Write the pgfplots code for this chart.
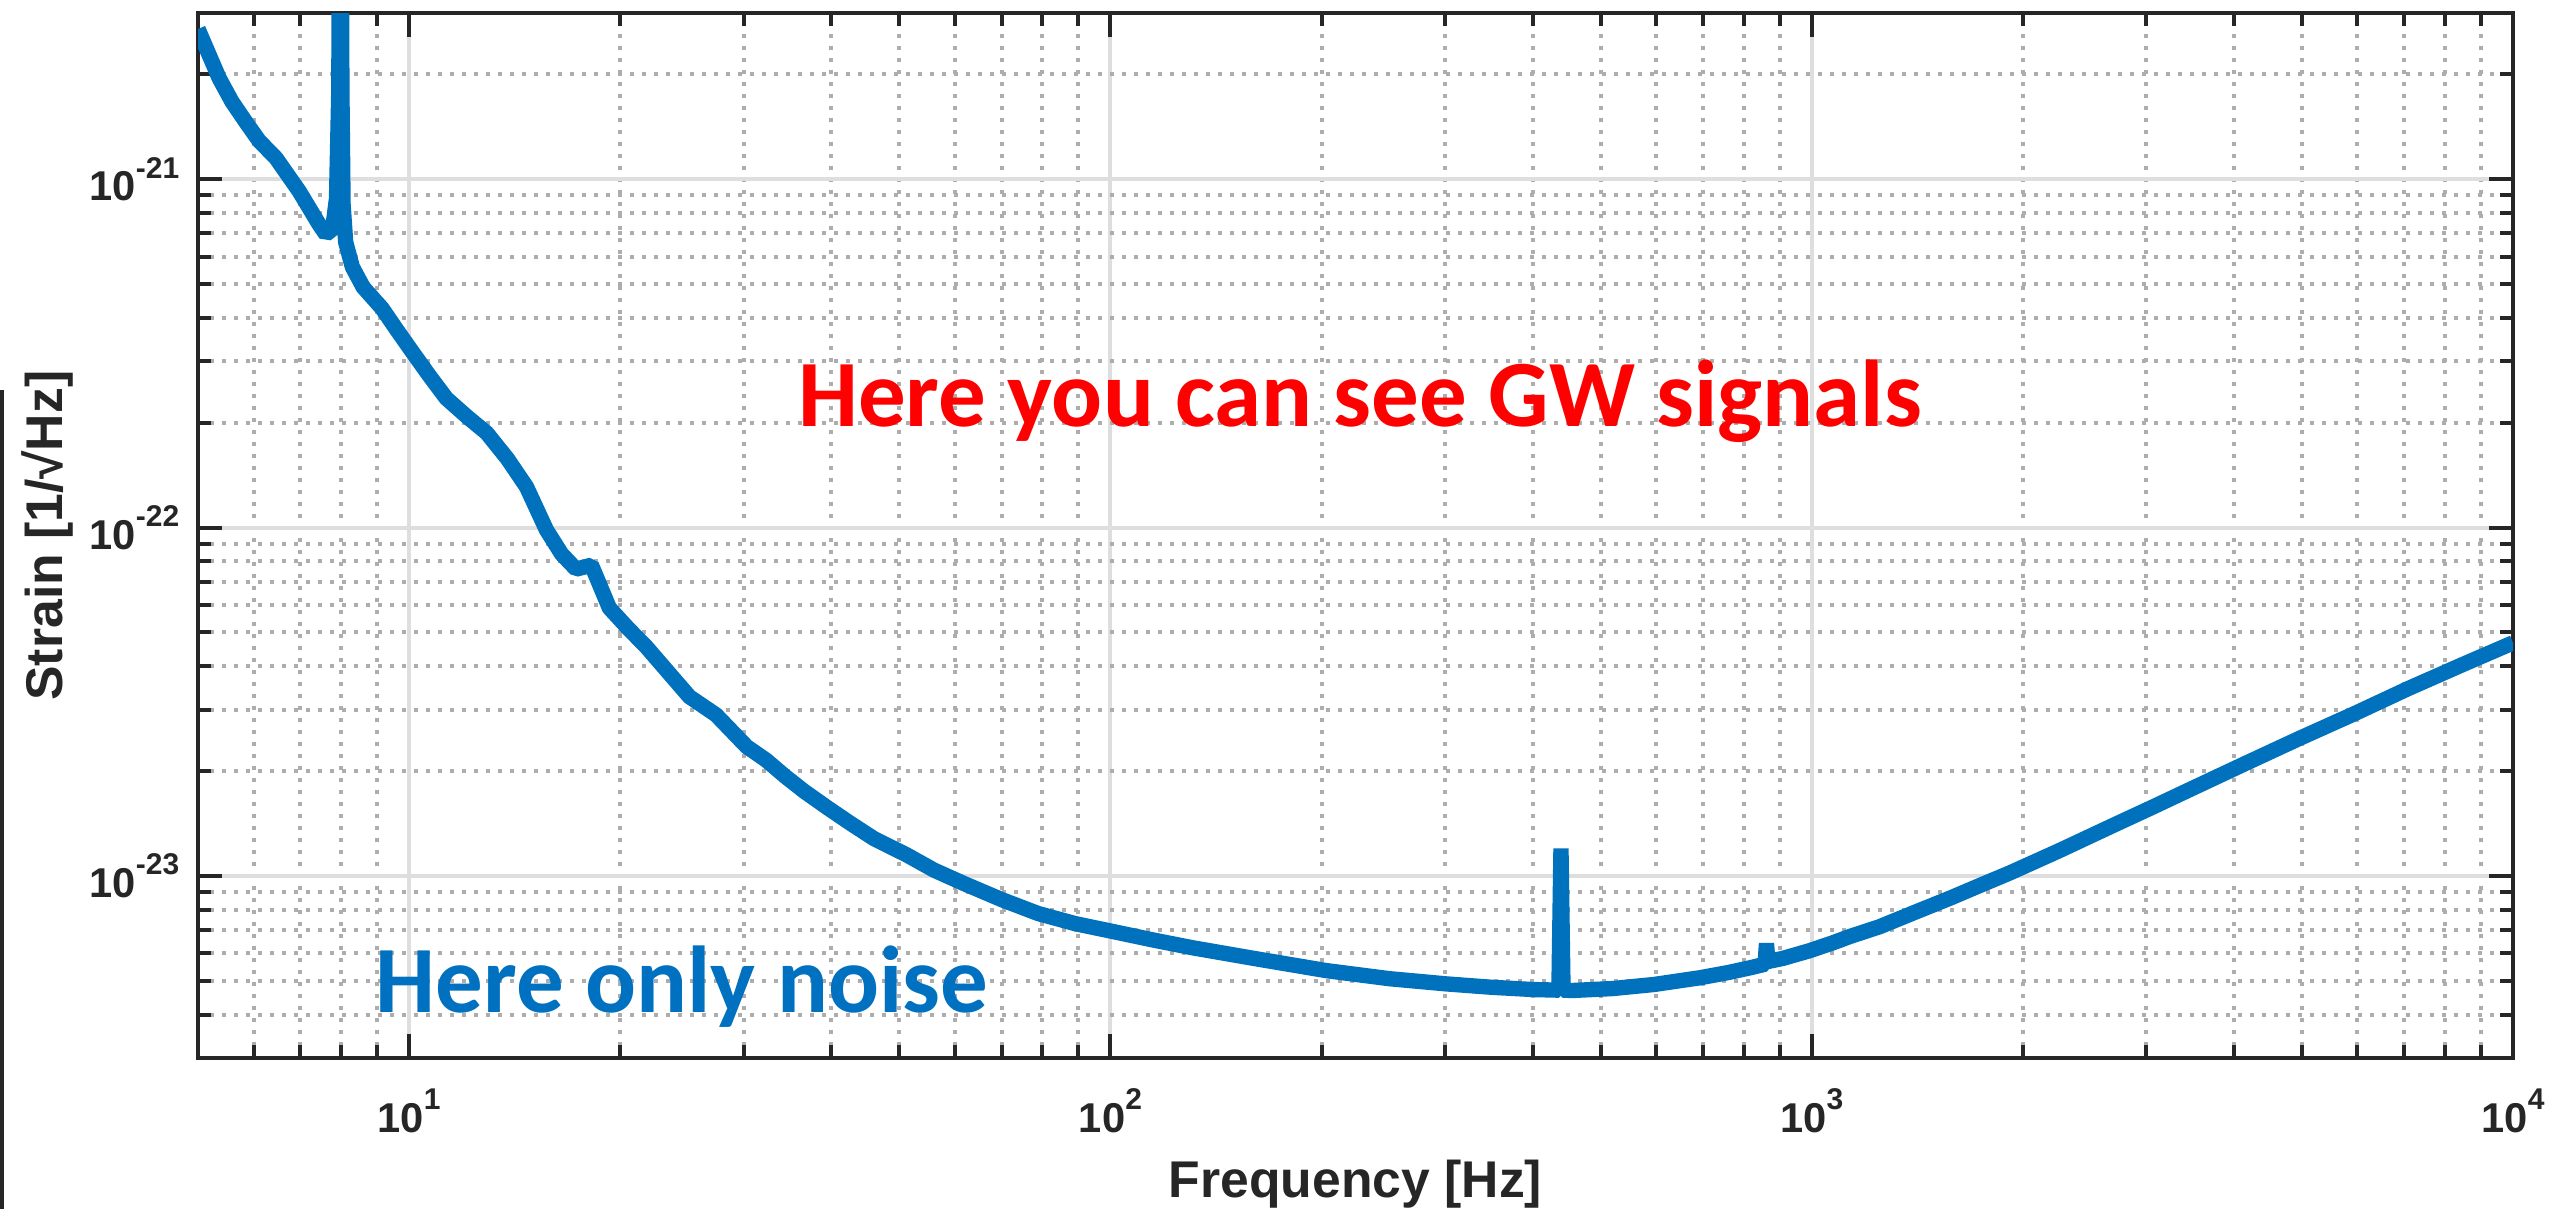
\documentclass[border=0pt]{standalone}
\usepackage{pgfplots}
\pgfplotsset{compat=1.18}
\usepackage{fontspec}
\setmainfont{Liberation Sans}
\newfontfamily\calibri{Carlito}
\definecolor{mblue}{RGB}{0,114,189}
\definecolor{tblue}{RGB}{0,112,192}
\definecolor{axgray}{RGB}{38,38,38}
% power-of-ten tick label with a raised exponent
\newcommand{\pw}[1]{10\raisebox{6.8pt}{\fontsize{9}{9}\selectfont #1}}

\begin{document}
\begin{tikzpicture}
\begin{axis}[
  at={(0,0)}, anchor=south west,
  scale only axis, width=694.5pt, height=313.5pt,
  xmode=log, ymode=log,
  xmin=5, xmax=10000, ymin=3e-24, ymax=3e-21,
  xtick={10,100,1000,10000},
  xticklabels={\pw{1},\pw{2},\pw{3},\pw{4}},
  ytick={1e-23,1e-22,1e-21},
  yticklabels={\pw{-23},\pw{-22},\pw{-21}},
  minor xtick={6,7,8,9,20,30,40,50,60,70,80,90,200,300,400,500,600,700,800,900,2000,3000,4000,5000,6000,7000,8000,9000},
  minor ytick={4e-24,5e-24,6e-24,7e-24,8e-24,9e-24,2e-23,3e-23,4e-23,5e-23,6e-23,7e-23,8e-23,9e-23,2e-22,3e-22,4e-22,5e-22,6e-22,7e-22,8e-22,9e-22,2e-21},
  grid=both,
  major grid style={line width=1.2pt, color=black!13},
  minor grid style={line width=1.2pt, color=black!32, dash pattern=on 1.2pt off 2.4pt},
  major tick length=7.2pt, minor tick length=4pt,
  tick style={line width=1.2pt, color=axgray},
  axis line style={line width=1.4pt, color=axgray},
  tick label style={font=\fontsize{12.5}{12.5}\selectfont\bfseries, text=axgray},
  xticklabel style={anchor=base, inner sep=0pt, yshift=-22.2pt},
  yticklabel style={anchor=east, inner sep=0pt, xshift=-5.4pt},
  xlabel={Frequency [Hz]},
  ylabel={Strain [1/√Hz]},
  every axis x label/.style={at={(axis description cs:0.5,-0.1330)}, anchor=base},
  every axis y label/.style={at={(axis description cs:-0.05875,0.5)}, anchor=base, rotate=90},
  label style={font=\fontsize{15.5}{15.5}\selectfont\bfseries, text=axgray},
]
\addplot[mblue, line width=4.6pt, line join=bevel] table {
f h
5.0 2.70e-21
5.36 1.95e-21
5.59 1.67e-21
5.85 1.46e-21
6.11 1.29e-21
6.46 1.15e-21
6.97 9.24e-22
7.44 7.43e-22
7.61 6.95e-22
7.78 7.2e-22
7.88 8.8e-22
7.94 1.8e-21
7.98 3e-20
8.02 1.8e-21
8.05 8.5e-22
8.12 6.6e-22
8.30 5.6e-22
8.60 4.9e-22
9.15 4.26e-22
9.60 3.70e-22
10.1 3.2e-22
10.7 2.72e-22
11.3 2.35e-22
12.1 2.08e-22
12.9 1.87e-22
13.8 1.58e-22
14.7 1.31e-22
15.7 9.84e-23
16.5 8.4e-23
17.3 7.6e-23
18.2 7.8e-23
19.3 5.88e-23
20.5 5.15e-23
21.8 4.54e-23
23.4 3.85e-23
25.1 3.27e-23
27.4 2.90e-23
30.3 2.35e-23
32.3 2.15e-23
34.4 1.93e-23
36.6 1.75e-23
39.5 1.57e-23
42.5 1.42e-23
46.0 1.28e-23
51.2 1.15e-23
56.0 1.04e-23
61.9 9.50e-24
70.0 8.55e-24
78.9 7.80e-24
89.0 7.30e-24
100 6.95e-24
115 6.55e-24
131 6.22e-24
160 5.80e-24
203 5.35e-24
250 5.07e-24
301 4.90e-24
350 4.79e-24
400 4.72e-24
436 4.70e-24
439 1.2e-23
442 4.70e-24
456 4.69e-24
520 4.75e-24
596 4.88e-24
692 5.10e-24
760 5.28e-24
817 5.45e-24
858 5.58e-24
862 6.40e-24
866 5.68e-24
910 5.80e-24
990 6.09e-24
1070 6.42e-24
1133 6.70e-24
1250 7.15e-24
1400 7.85e-24
1578 8.65e-24
1750 9.45e-24
1916 1.02e-23
2250 1.18e-23
2697 1.40e-23
3050 1.57e-23
3460 1.77e-23
4146 2.10e-23
4954 2.48e-23
5934 2.92e-23
7087 3.45e-23
8490 4.05e-23
10000 4.67e-23
};
\node[anchor=base, inner sep=0pt, text=red,
      font=\fontsize{28.5}{30}\selectfont\calibri\bfseries]
  at (rel axis cs:0.502,0.604) {Here you can see GW signals};
\node[anchor=base west, inner sep=0pt, text=tblue,
      font=\fontsize{28.5}{30}\selectfont\calibri\bfseries]
  at (rel axis cs:0.0765,0.044) {Here only noise};
\end{axis}
\pgfresetboundingbox
\path[use as bounding box] (-59.4pt,-45.3pt) rectangle (706.8pt,317.4pt);
\fill[axgray] (-59.4pt,-45.3pt) rectangle (-58.2pt,200.4pt);
\end{tikzpicture}
\end{document}
